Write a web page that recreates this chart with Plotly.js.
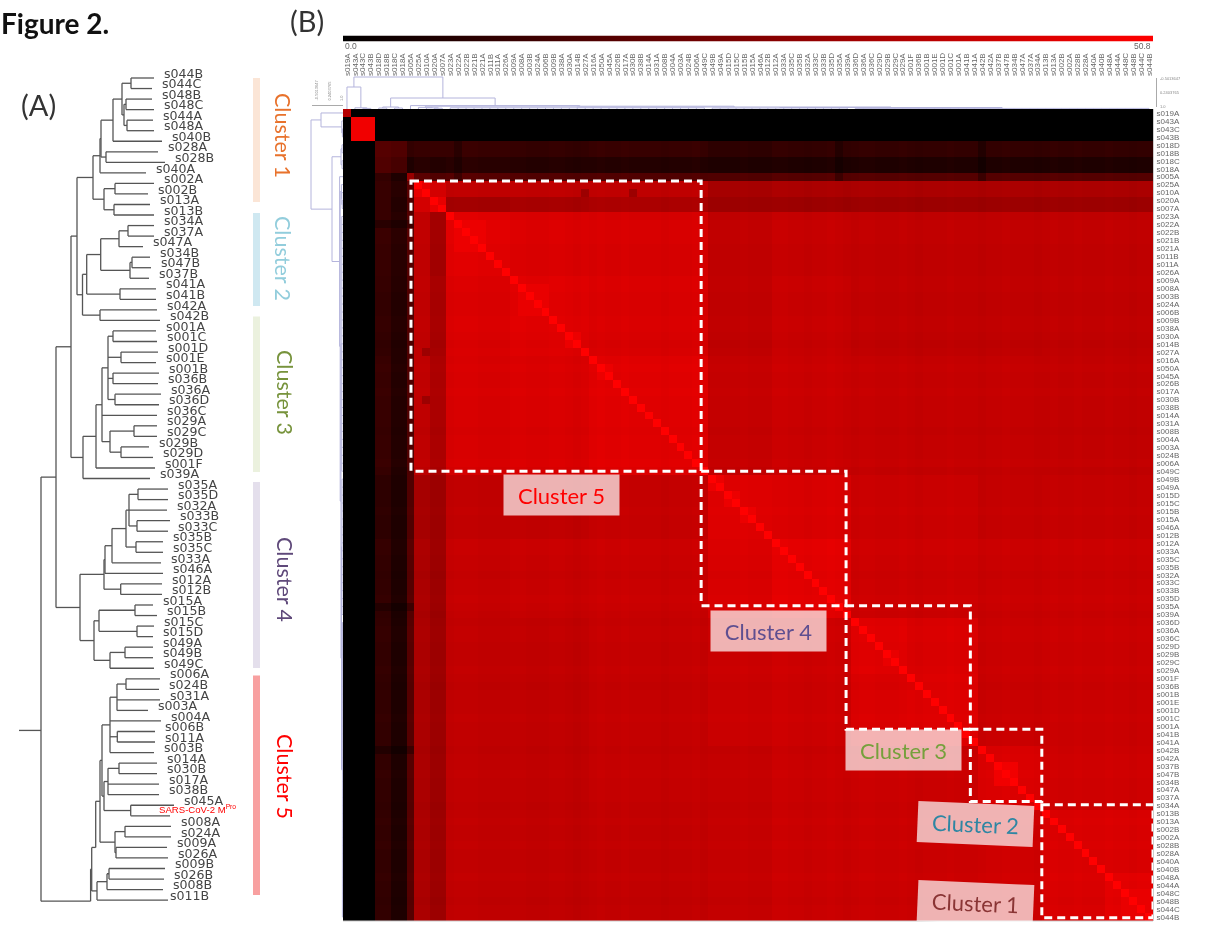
<!DOCTYPE html>
<html><head><meta charset="utf-8">
<script src="https://cdn.plot.ly/plotly-3.0.1.min.js"></script>
<style>html,body{margin:0;padding:0;background:#fff}#c{width:1225px;height:926px;filter:blur(0.4px)}</style>
</head><body><div id="c"></div>
<script>
// ---------- data ----------
const heatLabels = ["s019A","s043A","s043C","s043B","s018D","s018B","s018C","s018A","s005A","s025A","s010A","s020A","s007A","s023A","s022A","s022B","s021B","s021A","s011B","s011A","s026A","s009A","s008A","s003B","s024A","s006B","s009B","s038A","s030A","s014B","s027A","s016A","s050A","s045A","s026B","s017A","s030B","s038B","s014A","s031A","s008B","s004A","s003A","s024B","s006A","s049C","s049B","s049A","s015D","s015C","s015B","s015A","s046A","s012B","s012A","s033A","s035C","s035B","s032A","s033C","s033B","s035D","s035A","s039A","s036D","s036A","s036C","s029D","s029B","s029C","s029A","s001F","s036B","s001B","s001E","s001D","s001C","s001A","s041B","s041A","s042B","s042A","s037B","s047B","s034B","s047A","s037A","s034A","s013B","s013A","s002B","s002A","s028B","s028A","s040A","s040B","s048A","s044A","s048C","s048B","s044C","s044B"];
// first and last label index of each band of similar similarity
const bands = [[0,0],[1,3],[4,5],[6,7],[8,8],[9,10],[11,12],[13,20],[21,30],[31,45],[46,53],[54,63],[64,70],[71,79],[80,87],[88,95],[96,101]];
// similarity between bands (lower triangle)
const bandValues = [
 [36],
 [0,48],
 [0,0,17],
 [0,0,16,14],
 [0,0,10,6,30],
 [0,0,11,8,18,46],
 [0,0,11,7,16,42,46],
 [0,0,11,8,17,38,32,44.5],
 [0,0,10,7,16,38,33,43,44],
 [0,0,11,7,16,38,34,42.5,43,44.5],
 [0,0,9,6,16,33,31,38,38,39,44],
 [0,0,10,6,17,34,31,39,39.5,40,43,45],
 [0,0,10,6,17,34,31,38,38,39,40,40.5,44],
 [0,0,10,6,17,34,31,38,38,39,40,40.5,43,44],
 [0,0,10,6,17,34,31,38,38,39,39,40,40,40,43.5],
 [0,0,10,6,17,34,31,38,38,38.5,39,40,40,40,41,43],
 [0,0,10,6,17,34,31,38,38,38.5,39,40,40,40,41,43,45]
];
// small label-by-label tone differences
const leafTone = [0,0,0,0,0,0,0,0,0,0,0,0,0,0,.5,.5,.5,0,0,0,0,.5,.5,0,0,0,.5,.5,0,-.5,0,0,.5,0,0,.5,0,0,0,0,-.5,0,0,0,.5,-.5,0,0,0,0,.5,0,0,0,.5,.5,0,0,-.5,0,0,.5,0,-.5,0,.5,.5,0,0,0,.5,0,-.5,0,0,0,.5,0,0,0,-.5,0,0,.5,0,0,0,-.5,0,.5,0,0,.5,0,0,0,.5,0,0,-.5,0,0];
// brighter squares along the diagonal: first, last, value
const brightSquares = [[14,17,47],[22,25,46.5],[28,29,47],[32,33,47],[46,47,47],[48,49,47],[50,51,47],[68,69,46.5],[82,84,48],[98,101,46.5]];
const rowDips = [14,62,80];
const cellDips = [[30,10,31],[36,10,31]];
// dashed boxes: left, right, top, bottom edges in label units
const boxX = [[8.06,44.6],[44.6,62.85],[62.85,78.5],[78.5,87.5],[87.5,101.5]];
const boxY = [[8.55,45],[45,61.9],[61.9,77.4],[77.4,86.5],[86.9,101.1]];
const rampValues = [0,50.8];

// hierarchical clustering (A): [branch position, children...], leaf: [name, tip position, optional label position]
const treeA = [41,
 [56,
  [71,
   [77,
    [93,
     [100,
      [101,
       [113,
        [122,
         [131,["s044B",154],["s044C",152]],
         [124,[126,["s048B",152],["s048C",154]],[127,["s044A",153],["s048A",154]]]],
        ["s040B",162]],
       [106,["s028A",158],["s028B",165]]],
      ["s040A",146]],
     [104,
      [115,["s002A",154],["s002B",148]],
      [114,["s013A",150],["s013B",154]]]],
    [82.5,
     [86.7,
      [100.7,
       [119,[128,["s034A",154],["s037A",154]],["s047A",143]],
       [130,[132,["s034B",150],["s047B",151]],["s037B",149]]],
      [120,["s041A",156],["s041B",156]]],
     [100,["s042A",157],["s042B",160]]]],
   [83,
    [96,
     [102,
      [108,
       [113,["s001A",156],["s001C",157]],
       [121,["s001D",158],["s001E",156]],
       [113,["s001B",159],["s036B",158]],
       [115,["s036A",161],["s036D",159]]],
      ["s036C",157],
      [110,[134,["s029A",157],["s029C",157]],[121,["s029B",149],["s029D",153]]]],
     ["s001F",155]],
    ["s039A",150]]],
  [80,
   [104,
    [105,
     [112,
      [126,
       [129,[138,["s035A",168],["s035D",168]],["s032A",167],[137,["s033B",170],["s033C",168]]],
       [136,["s035B",163],["s035C",163]]],
      ["s033A",161]],
     ["s046A",163]],
    [120.7,["s012A",162],["s012B",162]]],
   [94,
    [99,[135,["s015A",153],["s015B",157]],[137,["s015C",154],["s015D",153]]],
    [110,[125,["s049A",153],["s049B",153]],["s049C",154]]]]],
 [90.6,
  [91.7,
   [95.7,
    [100,
     [102,
      [110,
       [117,[126,["s006A",160],["s024B",159]],["s031A",160],["s003A",148]],
       ["s004A",161],
       [117.3,["s006B",155],["s011A",155]],
       ["s003B",154]],
      [104,
       [108,[119,["s014A",157],["s030B",157]],["s017A",159],["s038B",159]],
       [130.7,["s045A",174],["SARS-CoV-2 M<sup>Pro</sup>",170]]]],
     [115,
      [125,["s008A",171],["s024A",171]],
      [116,["s009A",167],["s026A",168]]]]],
   [97,
    [107,[109,["s009B",165],["s026B",164]],["s008B",163]],
    ["s011B",168,170]]]]];
const stemOverride = {"41":61.9,"95.7":73,"90.6":78.1};

// clustering drawn beside the heat map (B): [height, children...], leaf: label index
const treeB = [32,
 [22,0,[1.2,1,[0.6,2,3]]],
 [11,
  [2,[1,4,5],[1,6,7]],
  [3.4,8,
   [2.8,
    [1.6,9,[1.2,10,[0.8,11,12]]],
    [2,
     [1.2,13,14,15,16,17,18,19,20,21,22,23,24,25,26,27,28,29,30,31,32,33,34,35,36,37,38,39,40,41,42,43,44,45],
     [1.5,
      [1,46,47,48,49,50,51,52,53,54,55,56,57,58,59,60,61,62,63],
      [0.6,64,65,66,67,68,69,70,71,72,73,74,75,76,77,78,79,80,81,82,83,84,85,86,87,88,89,90,91,92,93,94,95,96,97,98,99,100,101]]]]]]];

// cluster strip beside tree A
const stripNames = ["Cluster 1","Cluster 2","Cluster 3","Cluster 4","Cluster 5"];
const stripColors = ["#fbe5d6","#cfe8f1","#ebf1de","#e4dfec","#f8a0a0"];
const stripText = ["#e8722c","#92cddc","#77933c","#5f497a","#ff0000"];
const heatClusterText = ["#8a3535","#2f86a3","#76a03c","#5f4f90","#ff0000"];

// ---------- build ----------
const W=1225,H=926, px=x=>x/W, py=y=>1-y/H;
const n=heatLabels.length;
const idx=heatLabels.map((_,i)=>i);
const bandOf=i=>bands.findIndex(b=>i>=b[0]&&i<=b[1]);
const z=idx.map(i=>idx.map(j=>{
  const a=bandOf(i),b=bandOf(j);
  let v=bandValues[Math.max(a,b)][Math.min(a,b)];
  if(v>0) v+=leafTone[i]+leafTone[j];
  return v;
}));
brightSquares.forEach(s=>{for(let i=s[0];i<=s[1];i++)for(let j=s[0];j<=s[1];j++)z[i][j]=s[2];});
rowDips.forEach(d=>{for(let j=4;j<=8;j++){z[d][j]*=0.7;z[j][d]*=0.7;}});
cellDips.forEach(c=>{z[c[0]][c[1]]=c[2];z[c[1]][c[0]]=c[2];});
for(let i=9;i<n;i++)z[i][i]=50.8;

// tree A geometry
const ax=[],ay=[],lx=[],ly=[],lt=[];let counter=0;
function layA(node){
  if(typeof node[0]==="string"){
    const y=counter++;
    if(!node[0].startsWith("SARS")){lx.push(node[2]!==undefined?node[2]:node[1]+10);ly.push(y-0.33);lt.push(node[0]);}
    return {y:y,x:node[1]};
  }
  const d=node[0],ys=[];
  node.slice(1).forEach(k=>{const r=layA(k);ys.push(r.y);ax.push(d,r.x,null);ay.push(r.y,r.y,null);});
  const lo=Math.min(...ys),hi=Math.max(...ys);
  const ov=stemOverride[String(d)];
  const s=ov!==undefined?ov:(lo+hi)/2;
  ax.push(d,d,null);ay.push(Math.min(lo,s),Math.max(hi,s),null);
  return {y:s,x:d};
}
const rootA=layA(treeA);
ax.push(19,41,null);ay.push(rootA.y,rootA.y,null);

// tree B geometry (position along labels, height)
const bp=[],bh=[];
function layB(node){
  if(typeof node==="number")return {p:node,h:0};
  const h=node[0],ps=[];
  node.slice(1).forEach(k=>{const r=layB(k);ps.push(r.p);bp.push(r.p,r.p,null);bh.push(r.h,h,null);});
  const lo=Math.min(...ps),hi=Math.max(...ps);
  bp.push(lo,hi,null);bh.push(h,h,null);
  return {p:(lo+hi)/2,h:h};
}
layB(treeB);

const treeLine={color:"#b4b4dc",width:1};
const traces=[
 {type:"heatmap",x:idx,y:idx,z:z,zmin:0,zmax:50.8,colorscale:[[0,"#000000"],[1,"#ff0000"]],showscale:false,xaxis:"x",yaxis:"y"},
 {type:"heatmap",x:rampValues,y:[0,1],z:[rampValues,rampValues],zmin:0,zmax:50.8,zsmooth:"best",colorscale:[[0,"#000000"],[1,"#ff0000"]],showscale:false,xaxis:"x4",yaxis:"y4"},
 {type:"scatter",mode:"lines",x:bp,y:bh,line:treeLine,xaxis:"x",yaxis:"y3",cliponaxis:false,connectgaps:false,hoverinfo:"skip"},
 {type:"scatter",mode:"lines",x:bh,y:bp,line:treeLine,xaxis:"x3",yaxis:"y",cliponaxis:false,connectgaps:false,hoverinfo:"skip"},
 {type:"scatter",mode:"lines",x:ax,y:ay,line:{color:"#555555",width:1.3},xaxis:"x2",yaxis:"y2",connectgaps:false,hoverinfo:"skip"},
 {type:"scatter",mode:"text",x:lx,y:ly,text:lt,textposition:"middle right",textfont:{family:"DejaVu Sans",size:12.6,color:"#444444"},xaxis:"x2",yaxis:"y2",cliponaxis:false,hoverinfo:"skip"}
];

const hidden={visible:false,fixedrange:true,showgrid:false,zeroline:false};
const shapes=[];
boxX.forEach((bx,i)=>shapes.push({type:"rect",xref:"x",yref:"y",x0:bx[0],x1:bx[1],y0:boxY[i][0],y1:boxY[i][1],line:{color:"#ffffff",width:3,dash:"8px,5px"},layer:"above"}));
[[78,202],[213,306],[316.5,472],[482,668],[675.5,895]].forEach((r,i)=>shapes.push({type:"rect",xref:"paper",yref:"paper",x0:px(253),x1:px(260),y0:py(r[0]),y1:py(r[1]),line:{width:0},fillcolor:stripColors[i]}));
// small distance scales
const g={color:"#aaaaaa",width:1};
shapes.push({type:"line",xref:"paper",yref:"paper",x0:px(1156.5),x1:px(1156.5),y0:py(78),y1:py(107),line:g});
shapes.push({type:"line",xref:"paper",yref:"paper",x0:px(312),x1:px(343),y0:py(105.5),y1:py(105.5),line:g});
shapes.push({type:"line",xref:"paper",yref:"paper",x0:px(1153.5),x1:px(1153.5),y0:py(109),y1:py(921),line:{color:"#cccccc",width:1}});
shapes.push({type:"line",xref:"paper",yref:"paper",x0:px(343),x1:px(1153),y0:py(921),y1:py(921),line:{color:"#cccccc",width:1}});

const ann=[];
const A=(t,x,y,o)=>ann.push(Object.assign({text:t,xref:"paper",yref:"paper",x:px(x),y:py(y),showarrow:false,xanchor:"center",yanchor:"middle"},o));
A("Figure 2.",55,23,{font:{family:"Lato",size:28,color:"#111111",weight:700}});
A("(A)",38.5,104,{font:{family:"Lato",size:29,color:"#333333"}});
A("(B)",306.5,20,{font:{family:"Lato",size:29,color:"#333333"}});
[[283,135],[283,258],[285,392],[285,579],[285,776]].forEach((p,i)=>A(stripNames[i],p[0],p[1],{textangle:90,font:{family:"Lato",size:21.5,color:stripText[i]}}));
// labelled boxes on the heat map, Cluster 1 to Cluster 5
[[975,903,2.5],[975,824,2.4],[903,749.5,0],[768.5,630.5,0],[561,495,0]].forEach((b,i)=>
 A(stripNames[i],b[0],b[1],{textangle:b[2],width:113,height:38,bgcolor:"rgba(255,255,255,0.7)",font:{family:"Lato",size:22,color:heatClusterText[i]}}));
A("SARS-CoV-2 M<sup>Pro</sup>",157,809,{xanchor:"left",font:{family:"Liberation Sans",size:9.6,color:"#ff0000"}});
A("0.0",343,46.5,{xanchor:"left",font:{family:"Liberation Sans",size:8.5,color:"#666666"}});
A("50.8",1153,46.5,{xanchor:"right",font:{family:"Liberation Sans",size:8.5,color:"#666666"}});
[["-0.5013647",78.5],["0.2403765",92.5],["1.0",107]].forEach(t=>A(t[0],1158,t[1],{xanchor:"left",font:{family:"Liberation Sans",size:4,color:"#888888"}}));
[["-0.5013647",316],["0.2403765",328.5],["1.0",341]].forEach(t=>A(t[0],t[1],103,{yanchor:"bottom",textangle:-90,font:{family:"Liberation Sans",size:4,color:"#888888"}}));

const layout={
 width:W,height:H,autosize:false,margin:{l:0,r:0,t:0,b:0,pad:0},paper_bgcolor:"#ffffff",plot_bgcolor:"rgba(0,0,0,0)",showlegend:false,
 xaxis:{domain:[px(343),px(1153)],range:[-0.5,101.5],anchor:"free",position:py(76),side:"top",tickmode:"array",tickvals:idx,ticktext:heatLabels,tickangle:-90,tickfont:{family:"Liberation Sans",size:8,color:"#666666"},ticks:"",showgrid:false,zeroline:false,showline:false,fixedrange:true,automargin:false},
 yaxis:{domain:[py(921),py(109)],range:[101.5,-0.5],anchor:"x",side:"right",tickmode:"array",tickvals:idx,ticktext:heatLabels,tickfont:{family:"Liberation Sans",size:8,color:"#666666"},ticks:"outside",ticklen:1,tickcolor:"rgba(0,0,0,0)",showgrid:false,zeroline:false,showline:false,fixedrange:true,automargin:false},
 xaxis2:Object.assign({domain:[0,1],range:[0,W],anchor:"y2"},hidden),
 yaxis2:Object.assign({domain:[0,1],range:[(H-78)/10.54,-78/10.54],anchor:"x2"},hidden),
 yaxis3:Object.assign({domain:[py(109),py(70)],range:[0,39],anchor:"x"},hidden),
 xaxis3:Object.assign({domain:[px(300),px(343)],range:[43,0],anchor:"y"},hidden),
 xaxis4:Object.assign({domain:[px(343),px(1153)],range:[0,50.8],anchor:"y4"},hidden),
 yaxis4:Object.assign({domain:[py(41.5),py(35.5)],range:[0,1],anchor:"x4"},hidden),
 shapes:shapes,annotations:ann
};
Plotly.newPlot("c",traces,layout,{displayModeBar:false,staticPlot:true});
</script></body></html>
